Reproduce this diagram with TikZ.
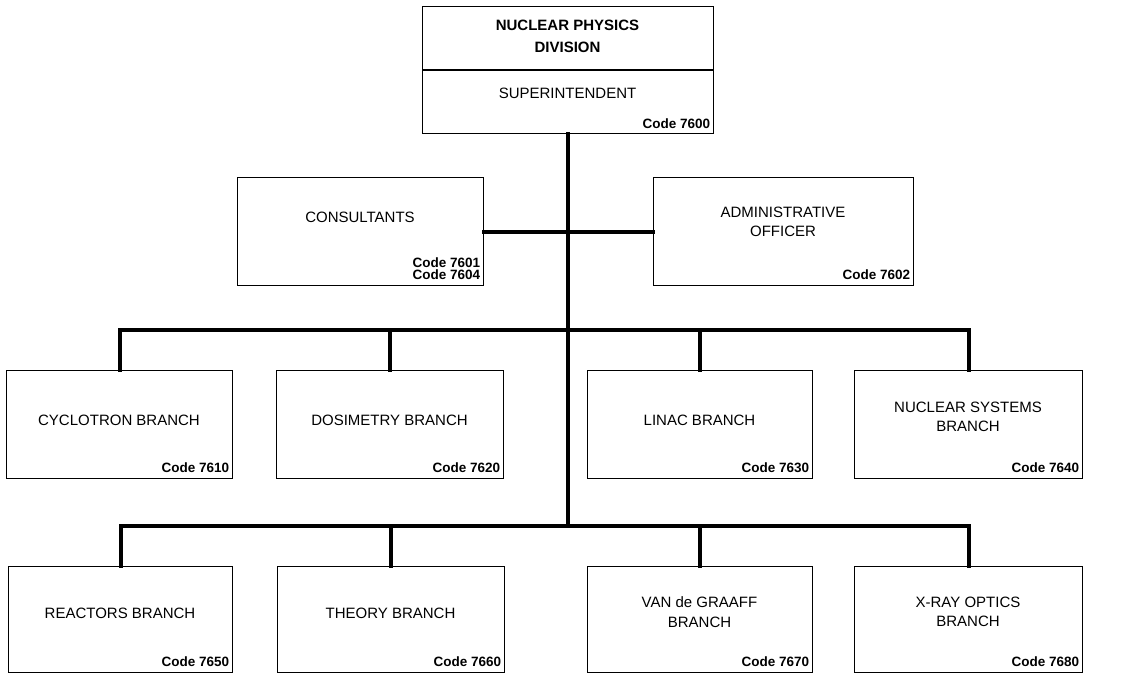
\documentclass[tikz,border=0pt]{standalone}
\usepackage{fontspec}
\setmainfont{Liberation Sans}
\begin{document}
\begin{tikzpicture}[x=1pt,y=-1pt,
  box/.style={draw,line width=1.3pt,rectangle,anchor=north west,inner sep=0pt},
  maintxt/.style={align=center,font=\fontsize{15}{19.5}\selectfont},
  codetxt/.style={anchor=south east,align=right,font=\fontsize{13.5}{13}\selectfont\bfseries,inner sep=0pt},
  conn/.style={line width=4.2pt,line cap=rect}]
\useasboundingbox (0,0) rectangle (1123,674);
% top box
\node[box,minimum width=291pt,minimum height=127pt] (top) at (422,6) {};
\draw[line width=1.1pt] (top.west |- 0,70) -- (top.east |- 0,70);
\node[maintxt,font=\fontsize{15}{22}\selectfont\bfseries] (ttl) at (567.5,36) {NUCLEAR PHYSICS\\DIVISION};
\node[maintxt] (sup) at (567.5,93) {SUPERINTENDENT};
\node[codetxt] (c7600) at ([xshift=-4pt,yshift=5pt]top.south east) {Code 7600};
% staff
\node[box,minimum width=246pt,minimum height=108pt] (cons) at (237,177) {};
\node[maintxt] (tcons) at (360,217) {CONSULTANTS};
\node[codetxt,font=\fontsize{13.5}{12}\selectfont\bfseries] (c7601) at ([xshift=-4pt,yshift=6pt]cons.south east) {Code 7601\\Code 7604};
\node[box,minimum width=260pt,minimum height=108pt] (adm) at (653,177) {};
\node[maintxt] (tadm) at (783,222) {ADMINISTRATIVE\\OFFICER};
\node[codetxt] (c7602) at ([xshift=-4pt,yshift=6pt]adm.south east) {Code 7602};
% row 1
\node[box,minimum width=226pt,minimum height=108pt] (cyc) at (6,370) {};
\node[maintxt] (tcyc) at (119,420) {CYCLOTRON BRANCH};
\node[codetxt] (c7610) at ([xshift=-4pt,yshift=6pt]cyc.south east) {Code 7610};
\node[box,minimum width=227pt,minimum height=108pt] (dos) at (276,370) {};
\node[maintxt] (tdos) at (389.5,420) {DOSIMETRY BRANCH};
\node[codetxt] (c7620) at ([xshift=-4pt,yshift=6pt]dos.south east) {Code 7620};
\node[box,minimum width=225pt,minimum height=108pt] (lin) at (587,370) {};
\node[maintxt] (tlin) at (699.5,420) {LINAC BRANCH};
\node[codetxt] (c7630) at ([xshift=-4pt,yshift=6pt]lin.south east) {Code 7630};
\node[box,minimum width=228pt,minimum height=108pt] (nuc) at (854,370) {};
\node[maintxt] (tnuc) at (968,417) {NUCLEAR SYSTEMS\\BRANCH};
\node[codetxt] (c7640) at ([xshift=-4pt,yshift=6pt]nuc.south east) {Code 7640};
% row 2
\node[box,minimum width=224pt,minimum height=106pt] (rea) at (8,566) {};
\node[maintxt] (trea) at (120,613) {REACTORS BRANCH};
\node[codetxt] (c7650) at ([xshift=-4pt,yshift=6pt]rea.south east) {Code 7650};
\node[box,minimum width=227pt,minimum height=106pt] (the) at (277,566) {};
\node[maintxt] (tthe) at (390.5,613) {THEORY BRANCH};
\node[codetxt] (c7660) at ([xshift=-4pt,yshift=6pt]the.south east) {Code 7660};
\node[box,minimum width=225pt,minimum height=106pt] (van) at (587,566) {};
\node[maintxt] (tvan) at (699.5,612) {VAN de GRAAFF\\BRANCH};
\node[codetxt] (c7670) at ([xshift=-4pt,yshift=6pt]van.south east) {Code 7670};
\node[box,minimum width=228pt,minimum height=106pt] (xra) at (854,566) {};
\node[maintxt] (txra) at (968,612) {X-RAY OPTICS\\BRANCH};
\node[codetxt] (c7680) at ([xshift=-4pt,yshift=6pt]xra.south east) {Code 7680};
% connectors
\coordinate (b1) at (567,330);
\coordinate (b2) at (567,526);
\draw[conn] (top.south) -- (top.south |- b2);
\draw[conn] (cons.east) -- (adm.west);
\draw[conn,line join=miter] (cyc.north) -- (cyc.north |- b1) -- (nuc.north |- b1) -- (nuc.north);
\draw[conn] (dos.north) -- (dos.north |- b1);
\draw[conn] (lin.north) -- (lin.north |- b1);
\draw[conn,line join=miter] (rea.north) -- (rea.north |- b2) -- (xra.north |- b2) -- (xra.north);
\draw[conn] (the.north) -- (the.north |- b2);
\draw[conn] (van.north) -- (van.north |- b2);
\end{tikzpicture}
\end{document}
